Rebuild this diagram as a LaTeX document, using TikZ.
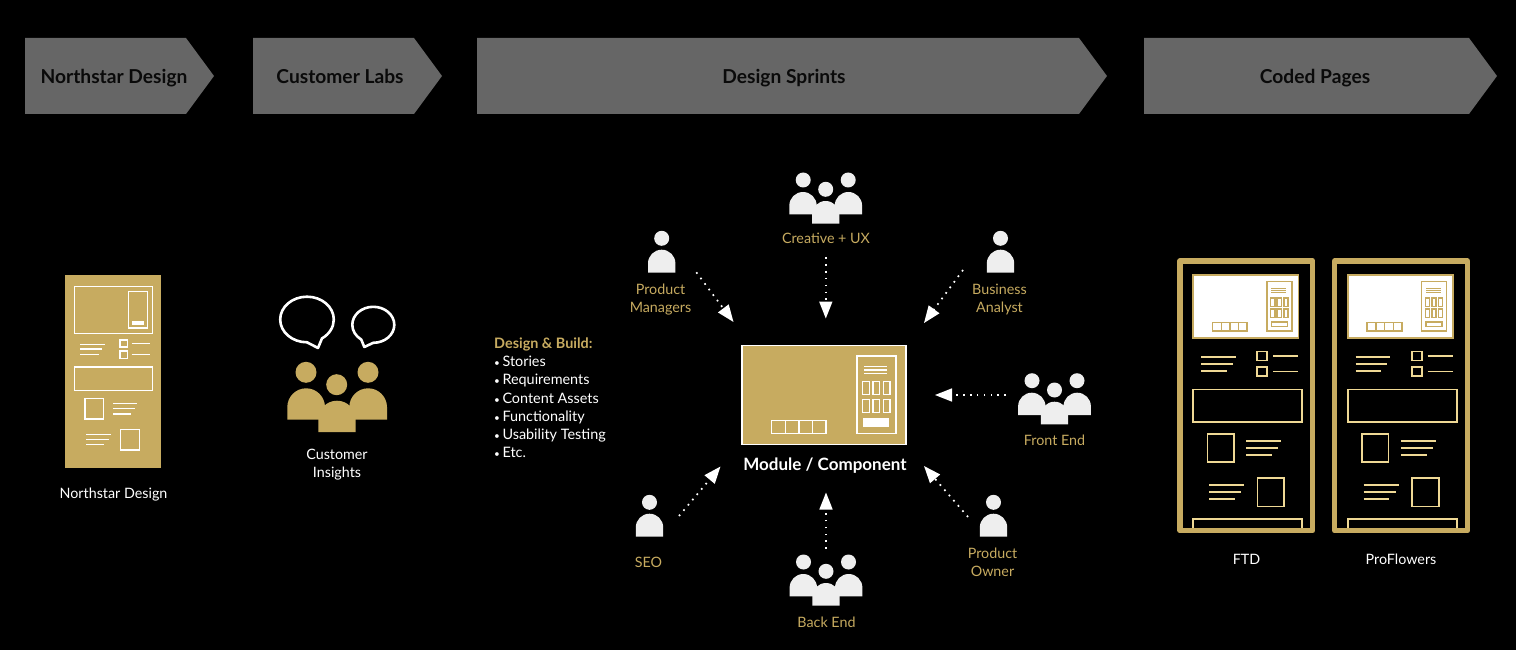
\documentclass[tikz,border=0pt]{standalone}
\usepackage{fontspec}
\setmainfont{Lato}
\usetikzlibrary{arrows.meta}
\definecolor{gold}{HTML}{C7AB60}
\definecolor{paleg}{HTML}{EFD995}
\definecolor{band}{HTML}{666666}
\definecolor{ink}{HTML}{0A0A0A}
\definecolor{snow}{HTML}{EEEEEE}
\tikzset{
  banner/.style={fill=band,draw=none},
  bantext/.style={font=\fontsize{19.2}{22}\selectfont\bfseries,text=ink,inner sep=0pt,text height=13pt,text depth=4pt},
  wlabel/.style={font=\fontsize{14.3}{18}\selectfont,text=white,align=center,inner sep=0pt},
  glabel/.style={font=\fontsize{14.3}{18}\selectfont,text=gold,align=center,inner sep=0pt},
  flow/.style={draw=white,line width=1.7pt,dash pattern=on 1.7pt off 5.2pt,-{Triangle[length=17pt,width=13pt,fill=white]}},
  wl/.style={draw=white,line width=1.5pt},
  gl/.style={draw=paleg,line width=1.6pt},
  bubble/.style={draw=white,line width=2.6pt,line join=round,fill=black},
}
\newcommand{\onebody}[5]{% colour, x1, x2, top, bottom
  \pgfmathsetmacro{\bodyr}{((#3)-(#2))/2}
  \fill[#1] ({#2},{#5}) -- ({#2},{(#4)+\bodyr}) arc[start angle=180,end angle=360,radius=\bodyr] -- ({#3},{#5}) -- cycle;}
\newcommand{\oneperson}[3]{% colour, cx, headcy
  \fill[#1] (#2,#3) circle[radius=7.5];
  \onebody{#1}{#2-13.7}{#2+13.7}{#3+11.4}{#3+34.4}}
\newcommand{\threepeople}[3]{% colour, cx, centre head cy
  \fill[#1] (#2,#3) circle[radius=7.5];
  \fill[#1] ({#2-22.5},{#3-9.3}) circle[radius=7.5];
  \fill[#1] ({#2+22.5},{#3-9.3}) circle[radius=7.5];
  \onebody{#1}{#2-36.4}{#2-9}{#3+2.7}{#3+25}
  \onebody{#1}{#2+9}{#2+36.4}{#3+2.7}{#3+25}
  \onebody{#1}{#2-13.7}{#2+13.7}{#3+11.7}{#3+34.4}}
\newcommand{\moduleicon}[5]{% x,y,scale,fill,line colour
  \begin{scope}[shift={(#1,#2)},scale=#3]
    \draw[fill=#4,draw=#5,line width=1.6pt] (0.7,0.7) rectangle (165,99.6);
    \draw[draw=#5,line width=1.6pt] (115.7,11) rectangle (155,88.6);
    \foreach \ya in {21.6,25.3,29}{\draw[draw=#5,line width=1.2pt] (123,\ya) -- (145.7,\ya);}
    \foreach \xa in {121.7,132,142.3}{
      \draw[draw=#5,line width=1.5pt] (\xa,37) rectangle ++(6.6,13);
      \draw[draw=#5,line width=1.5pt] (\xa,54.6) rectangle ++(6.6,13);}
    \draw[draw=#5,line width=1.4pt] (123,74.3) rectangle (147.7,81.3);
    \draw[draw=#5,line width=1.5pt] (30.7,75.6) rectangle (85,88.6);
    \foreach \xa in {44.7,58,71.7}{\draw[draw=#5,line width=1.5pt] (\xa,75.6) -- (\xa,88.6);}
  \end{scope}}
\newcommand{\codedpage}[1]{%
  \begin{scope}[xshift=#1]
    \draw[gl] (1193,530) -- (1193,519) -- (1302,519) -- (1302,530);
    \draw[draw=gold,line width=5.5pt,line join=round] (1180,261) rectangle (1312.7,530.6);
    \moduleicon{1192.7}{274.3}{0.64}{white}{gold}
    \draw[gl] (1201,356.7) -- (1235.7,356.7) (1201,363.7) -- (1232.7,363.7) (1201,371) -- (1226.7,371);
    \draw[gl] (1257,351.3) rectangle (1267,360.3) (1257,366.7) rectangle (1267,376);
    \draw[gl] (1273,355.7) -- (1298.3,355.7) (1273,371.3) -- (1298.3,371.3);
    \draw[gl] (1193,389.3) rectangle (1302,421.7);
    \draw[gl] (1207.3,433.7) rectangle (1233.7,462);
    \draw[gl] (1246.3,440.7) -- (1281.3,440.7) (1246.3,447.7) -- (1278.3,447.7) (1246.3,455) -- (1272,455);
    \draw[gl] (1209,484.7) -- (1244,484.7) (1209,491.7) -- (1241,491.7) (1209,499) -- (1234.7,499);
    \draw[gl] (1257.3,477.7) rectangle (1284,506.3);
  \end{scope}}
\newcommand{\lb}{{\fontsize{10}{18}\selectfont •}\hspace{2.5pt}}
\begin{document}
\begin{tikzpicture}[x=1pt,y=-1pt]
\useasboundingbox (0,0) rectangle (1516,650);
\fill[black] (0,0) rectangle (1516,650);

% banners
\draw[banner] (25,38) -- (186,38) -- (214,76) -- (186,114) -- (25,114) -- cycle;
\draw[banner] (253,38) -- (414,38) -- (442,76) -- (414,114) -- (253,114) -- cycle;
\draw[banner] (477,38) -- (1079,38) -- (1107,76) -- (1079,114) -- (477,114) -- cycle;
\draw[banner] (1144,38) -- (1469,38) -- (1497,76) -- (1469,114) -- (1144,114) -- cycle;
\node[bantext] (b1) at (114,79.5) {Northstar Design};
\node[bantext] (b2) at (340,79.5) {Customer Labs};
\node[bantext] (b3) at (784,79.5) {Design Sprints};
\node[bantext] (b4) at (1315,79.5) {Coded Pages};

% Northstar page
\fill[gold] (64.7,275.3) rectangle (160.7,468.3);
\draw[wl] (74.7,286.7) rectangle (152.3,333.3);
\draw[wl] (128.7,291.7) rectangle (147.3,328);
\fill[white] (132,320.7) rectangle (144.3,325);
\draw[wl] (80.3,344.3) -- (105,344.3) (80.3,349) -- (102.3,349) (80.3,354.7) -- (98.7,354.7);
\draw[wl] (120,340) rectangle (127.7,347) (120,351) rectangle (127.7,358.3);
\draw[wl] (131.7,343.7) -- (149.7,343.7) (131.7,354.7) -- (149.7,354.7);
\draw[wl] (74.7,367) rectangle (152.3,390.3);
\draw[wl] (85,398.7) rectangle (103.7,419);
\draw[wl] (113,403.7) -- (137.3,403.7) (113,408.7) -- (135,408.7) (113,414) -- (130.7,414);
\draw[wl] (86,434.7) -- (111,434.7) (86,439.7) -- (108.7,439.7) (86,444.7) -- (104.3,444.7);
\draw[wl] (120.3,429.7) rectangle (139.3,450);
\node[wlabel] (nsl) at (113.5,495) {Northstar Design};

% Customer insights
\draw[bubble] (307,342.3) arc[start angle=90,end angle=416,x radius=26.8,y radius=22.8] -- (318,348) -- cycle;
\draw[bubble] (373.3,342.8) arc[start angle=90,end angle=-235,x radius=21,y radius=18] -- (364.3,347) -- cycle;
\fill[gold] (306,372.3) circle[radius=10.5] (336.7,384.7) circle[radius=10.5] (368,372.3) circle[radius=10.5];
\onebody{gold}{287.3}{325}{388.3}{419.7}
\onebody{gold}{349.3}{387}{388.3}{419.7}
\onebody{gold}{318.3}{355.7}{400.7}{432}
\node[wlabel] (cil) at (337,465) {Customer\\Insights};

% list
\node[font=\fontsize{14.4}{18.2}\selectfont,text=white,align=left,inner sep=0pt,anchor=north west] (list) at (494,337.5)
  {\textcolor{gold}{\textbf{Design \& Build:}}\\\lb Stories\\\lb Requirements\\\lb Content Assets\\\lb Functionality\\\lb Usability Testing\\\lb Etc.};

% module
\moduleicon{741}{344.7}{1}{gold}{white}
\fill[white] (864,419) rectangle (888.7,426);
\node[font=\fontsize{17}{20}\selectfont\bfseries,text=white,inner sep=0pt] (mod) at (825,466) {Module / Component};

% people
\threepeople{snow}{825.7}{189.3}
\node[glabel] (cux) at (826,238) {Creative + UX};
\oneperson{snow}{661.7}{238.3}
\node[glabel] (pm) at (660.5,300) {Product\\Managers};
\oneperson{snow}{1000.5}{238.3}
\node[glabel] (ba) at (999.5,300) {Business\\Analyst};
\threepeople{snow}{1054.5}{390}
\node[glabel] (fe) at (1054.5,440) {Front End};
\oneperson{snow}{993.5}{502.3}
\node[glabel] (po) at (992.5,562) {Product\\Owner};
\threepeople{snow}{826}{571.3}
\node[glabel] (be) at (826.5,622) {Back End};
\oneperson{snow}{649.5}{502.3}
\node[glabel] (seo) at (648.5,562) {SEO};

% connectors
\coordinate (fA) at (696.3,272.3); \coordinate (tA) at (733.5,322);
\coordinate (fB) at (825.8,257);   \coordinate (tB) at (825.8,318.5);
\coordinate (fC) at (963,270);     \coordinate (tC) at (924,323);
\coordinate (fD) at (1006,395);    \coordinate (tD) at (935,395);
\coordinate (fE) at (968,517);     \coordinate (tE) at (924,466);
\coordinate (fF) at (826,549);     \coordinate (tF) at (826,492.5);
\coordinate (fG) at (679,516);     \coordinate (tG) at (720.5,466.5);
\draw[flow] (fA) -- (tA);
\draw[flow] (fB) -- (tB);
\draw[flow] (fC) -- (tC);
\draw[flow] (fD) -- (tD);
\draw[flow] (fE) -- (tE);
\draw[flow] (fF) -- (tF);
\draw[flow] (fG) -- (tG);

% coded pages
\codedpage{0}
\codedpage{154.7}
\node[wlabel] (ftd) at (1246.5,559) {FTD};
\node[wlabel] (pf) at (1401,559) {ProFlowers};
\end{tikzpicture}
\end{document}
